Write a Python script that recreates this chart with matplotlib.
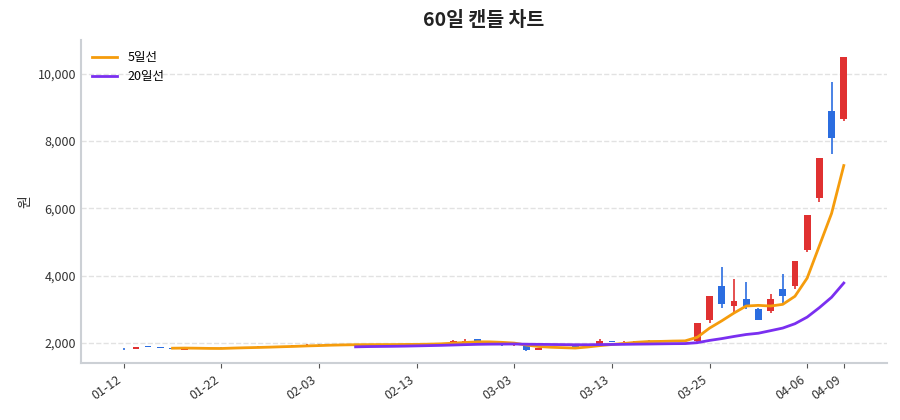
import matplotlib
matplotlib.use("Agg")
import matplotlib.pyplot as plt
import numpy as np
import pandas as pd
from matplotlib.ticker import FuncFormatter

plt.rcParams['font.family'] = ['Noto Sans CJK KR', 'DejaVu Sans']

holidays = pd.to_datetime(["2026-02-16", "2026-02-17", "2026-02-18", "2026-03-02"])
dates = [d for d in pd.bdate_range("2026-01-12", "2026-04-09") if d not in holidays]
labels = [d.strftime("%m-%d") for d in dates]

opens = [1830, 1820, 1900, 1880, 1850, 1800, 1830, 1840, 1860, 1850,
         1870, 1880, 1880, 1900, 1910, 1920, 1950, 1940, 1960, 1950,
         1950, 1960, 1950, 1960, 1960, 1960, 1970, 2010, 2020, 2110,
         2000, 1960, 1930, 1920, 1800, 1880, 1850, 1900, 1900, 1960,
         2060, 2030, 2020, 2070, 2060, 2060, 2080, 2050, 2700, 3700,
         3100, 3300, 3000, 2950, 3600, 3700, 4750, 6300, 8900, 8650]
closes = [1810, 1870, 1880, 1860, 1820, 1830, 1850, 1850, 1850, 1880,
          1880, 1890, 1900, 1910, 1930, 1950, 1940, 1960, 1950, 1960,
          1960, 1950, 1960, 1970, 1970, 1990, 2000, 2060, 2070, 2070,
          1980, 1930, 1950, 1780, 1850, 1870, 1870, 1890, 1940, 2050,
          2040, 2030, 2060, 2050, 2070, 2090, 2060, 2600, 3400, 3150,
          3250, 3100, 2700, 3300, 3400, 4450, 5800, 7500, 8100, 10500]
highs = [1840, 1880, 1910, 1890, 1860, 1840, 1860, 1860, 1870, 1890,
         1890, 1900, 1910, 1920, 1940, 1960, 1960, 1970, 1970, 1970,
         1970, 1970, 1970, 1980, 1980, 2000, 2010, 2080, 2120, 2120,
         2010, 1970, 1960, 1930, 1860, 1890, 1880, 1910, 1950, 2110,
         2070, 2050, 2070, 2080, 2100, 2100, 2090, 2600, 3400, 4250,
         3900, 3800, 3050, 3450, 4050, 4450, 5800, 7500, 9750, 10500]
lows = [1800, 1810, 1870, 1850, 1810, 1790, 1820, 1830, 1840, 1840,
        1860, 1870, 1870, 1890, 1900, 1910, 1930, 1930, 1940, 1940,
        1940, 1940, 1940, 1950, 1950, 1950, 1960, 2000, 2010, 2060,
        1970, 1920, 1920, 1770, 1790, 1860, 1840, 1880, 1890, 1950,
        2030, 2020, 2010, 2040, 2050, 2050, 2050, 2040, 2600, 3050,
        2900, 3000, 2680, 2900, 3200, 3600, 4700, 6200, 7600, 8600]

tick_labels = ["01-12", "01-22", "02-03", "02-13", "03-03", "03-13", "03-25", "04-06", "04-09"]

up_c, down_c = '#e03131', '#2b6de0'
c = pd.Series(closes)
ma5 = c.rolling(5).mean()
ma20 = c.rolling(20).mean()

fig, ax = plt.subplots(figsize=(9, 4.2), dpi=100)
fig.subplots_adjust(left=0.09, right=0.985, top=0.905, bottom=0.135)
x = np.arange(len(dates))
for i in x:
    col = up_c if closes[i] >= opens[i] else down_c
    ax.vlines(i, lows[i], highs[i], color=col, lw=1.2, zorder=2)
    lo, hi = sorted([opens[i], closes[i]])
    ax.bar(i, max(hi - lo, 15), bottom=lo, width=0.55, color=col, zorder=3)
ax.plot(x, ma5, color='#f59c0c', lw=2, label='5일선', zorder=4)
ax.plot(x, ma20, color='#7a2ff0', lw=2, label='20일선', zorder=4)

ax.set_xlim(-3.5, 62.5)
ax.set_ylim(1400, 11000)
ax.yaxis.set_major_formatter(FuncFormatter(lambda v, p: f"{int(v):,}"))
ax.set_yticks([2000, 4000, 6000, 8000, 10000])
ticks = [labels.index(t) for t in tick_labels]
ax.set_xticks(ticks)
ax.set_xticklabels(tick_labels, rotation=35, ha='right', fontsize=9, color='#333')
ax.tick_params(axis='y', labelsize=9, colors='#333', length=0)
ax.tick_params(axis='x', color='#555')
ax.grid(axis='y', ls='--', color='#e2e2e2', lw=1)
ax.set_axisbelow(True)
for s in ['top', 'right']:
    ax.spines[s].set_visible(False)
for s in ['left', 'bottom']:
    ax.spines[s].set_color('#ccd0d5')
    ax.spines[s].set_linewidth(1.5)
ax.set_ylabel('원', fontsize=10, color='#333')
ax.set_title('60일 캔들 차트', fontsize=14, fontweight='bold', color='#222', pad=10)
ax.legend(loc='upper left', frameon=False, fontsize=9)
fig.savefig('out.png', dpi=100)
